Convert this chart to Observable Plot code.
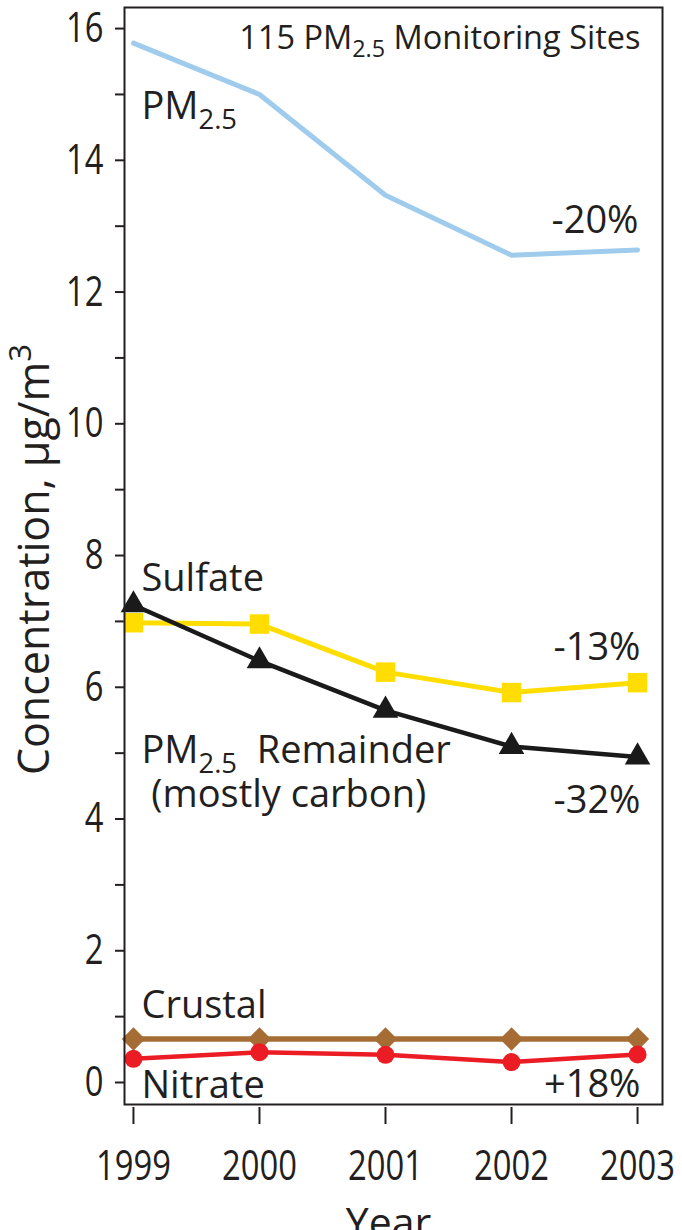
<!DOCTYPE html>
<html>
<head>
<meta charset="utf-8">
<script src="https://cdn.jsdelivr.net/npm/d3@7"></script>
<script src="https://cdn.jsdelivr.net/npm/@observablehq/plot@0.6"></script>
<style>
  html, body { margin: 0; padding: 0; background: #fff; }
  #chart svg { display: block; }
</style>
</head>
<body>
<div id="chart"></div>
<script>
// Annual mean concentrations (µg/m³) at 115 PM2.5 monitoring sites
const years = [1999, 2000, 2001, 2002, 2003];
const pm25 = [15.78, 15.00, 13.47, 12.56, 12.64];
const sulfate = [6.98, 6.96, 6.23, 5.92, 6.07];
const remainder = [7.25, 6.40, 5.65, 5.10, 4.94];
const crustal = [0.66, 0.66, 0.66, 0.66, 0.66];
const nitrate = [0.36, 0.46, 0.42, 0.31, 0.425];

const yTicks = [0, 1, 2, 3, 4, 5, 6, 7, 8, 9, 10, 11, 12, 13, 14, 15, 16];
const title = "115 PM2.5 Monitoring Sites";
const yLabel = "Concentration, µg/m3";
const xLabel = "Year";

const ink = "#231f20";
const font = "'Open Sans', 'DejaVu Sans', sans-serif";
const labelSize = 38;
const tickSize = 42;

const toRows = (values) => years.map((year, i) => ({year, value: values[i]}));
const change = (values) => {
  const c = Math.round((values[values.length - 1] / values[0] - 1) * 100);
  return (c > 0 ? "+" : "") + c + "%";
};

// One entry per component: line and marker style
const series = [
  {values: pm25, stroke: "#9fcbec", width: 5, symbol: null},
  {values: crustal, stroke: "#a56d34", width: 5.5, symbol: "diamond2", r: 10.5},
  {values: nitrate, stroke: "#ec1c24", width: 4.5, symbol: "circle", r: 9},
  {values: sulfate, stroke: "#ffdd00", width: 5, symbol: "square", r: 11},
  {values: remainder, stroke: "#1a1a1a", width: 4.5, symbol: "triangle", r: 9.5}
];

const seriesMarks = series.flatMap((s) => {
  const data = toRows(s.values);
  const m = [Plot.line(data, {x: "year", y: "value", stroke: s.stroke, strokeWidth: s.width, strokeLinejoin: "miter"})];
  if (s.symbol) m.push(Plot.dot(data, {x: "year", y: "value", symbol: s.symbol, r: s.r, fill: s.stroke, stroke: "none"}));
  return m;
});

// Name labels hang off each series' first point, change labels off its last point
const nameLabel = (values, text, dx, dy) =>
  Plot.text([toRows(values)[0]], {x: "year", y: "value", text: () => text, dx, dy,
    textAnchor: "start", lineAnchor: "bottom", lineHeight: 1.16, fontSize: labelSize, fill: ink});
const changeLabel = (values, dx, dy) =>
  Plot.text([toRows(values)[values.length - 1]], {x: "year", y: "value", text: () => change(values), dx, dy,
    textAnchor: "end", lineAnchor: "bottom", fontSize: labelSize, fill: ink});

const chart = Plot.plot({
  width: 682,
  height: 1230,
  marginLeft: 124,
  marginRight: 20,
  marginTop: 7,
  marginBottom: 126,
  style: {fontFamily: font, color: ink, background: "#fff"},
  x: {domain: [1998.929, 2003.198]},
  y: {domain: [-0.334, 16.32]},
  marks: [
    Plot.axisY(yTicks, {tickSize: 9, tickPadding: 12, fontSize: tickSize, strokeWidth: 2, color: ink,
      tickFormat: (d) => (d % 2 ? "" : String(d)), label: null}),
    Plot.axisX(years, {tickSize: 17, tickPadding: 26, dy: 3, fontSize: tickSize, strokeWidth: 2, color: ink,
      tickFormat: (d) => String(d), label: null}),
    ...seriesMarks,
    Plot.frame({stroke: ink, strokeWidth: 2}),
    nameLabel(pm25, "PM2.5", 8, 76),
    nameLabel(sulfate, "Sulfate", 8, -32),
    nameLabel(remainder, "PM2.5  Remainder\n\u00a0(mostly carbon)", 8, 202),
    nameLabel(crustal, "Crustal", 8, -21),
    nameLabel(nitrate, "Nitrate", 8, 39),
    changeLabel(pm25, 1, -17),
    changeLabel(sulfate, 3, -23),
    changeLabel(remainder, 3, 56),
    changeLabel(nitrate, 3, 42),
    Plot.text([title], {frameAnchor: "top-right", text: (d) => d, dx: -22, dy: 41,
      textAnchor: "end", lineAnchor: "bottom", fontSize: 32.5, fill: ink}),
    Plot.text([yLabel], {frameAnchor: "left", text: (d) => d, rotate: -90, dx: -76, dy: 3.5,
      textAnchor: "middle", lineAnchor: "bottom", fontSize: 43, fill: ink}),
    Plot.text([xLabel], {frameAnchor: "bottom", text: (d) => d, dx: -5, dy: 132,
      textAnchor: "middle", lineAnchor: "bottom", fontSize: 41, fill: ink})
  ]
});

document.getElementById("chart").appendChild(chart);

// Narrow the numerals of the tick labels
d3.select(chart).selectAll('g[aria-label$="tick label"] text').each(function () {
  const t = this.getAttribute("transform") || "";
  this.setAttribute("transform", t + " scale(0.78,1)");
});

// Subscript "2.5" in PM2.5 and superscript the cube in m3
function enrich(el, fs) {
  const s = el.textContent;
  let segs;
  if (s.includes("PM2.5")) {
    const i = s.indexOf("PM2.5");
    segs = [[s.slice(0, i + 2), 0], ["2.5", 1], [s.slice(i + 5), 0]];
  } else if (s === yLabel) {
    segs = [[s.slice(0, -1), 0], ["3", -1]];
  } else return;
  const sel = d3.select(el).text(null);
  let cur = 0;
  for (const [t, k] of segs) {
    if (!t) continue;
    const off = k === 1 ? 0.26 * fs : k === -1 ? -0.4 * fs : 0;
    const ts = sel.append("tspan").text(t).attr("dy", (off - cur).toFixed(2));
    if (k) ts.attr("font-size", (0.72 * fs).toFixed(1));
    cur = off;
  }
}
d3.select(chart).selectAll("text").each(function () {
  const fs = parseFloat(getComputedStyle(this).fontSize);
  const lines = Array.from(this.children).filter((c) => c.tagName === "tspan");
  for (const el of (lines.length ? lines : [this])) enrich(el, fs);
});
</script>
</body>
</html>
